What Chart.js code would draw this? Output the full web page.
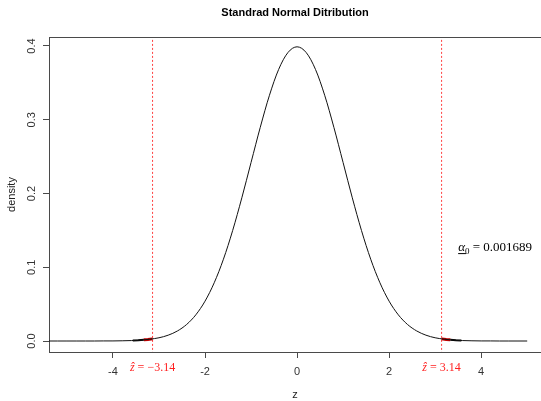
<!DOCTYPE html>
<html>
<head>
<meta charset="utf-8">
<script src="https://cdn.jsdelivr.net/npm/chart.js@4"></script>
<style>
html,body{margin:0;padding:0;background:#fff;}
#c{display:block;}
</style>
</head>
<body>
<canvas id="c" width="541" height="401"></canvas>
<script>
// ---- data ----
const zValues = [-5.4,-5.2,-5.0,-4.8,-4.6,-4.4,-4.2,-4.0,-3.8,-3.6,-3.4,-3.2,-3.0,-2.8,-2.6,-2.4,-2.2,-2.0,-1.8,-1.6,-1.4,-1.2,-1.0,-0.8,-0.6,-0.4,-0.2,0.0,0.2,0.4,0.6,0.8,1.0,1.2,1.4,1.6,1.8,2.0,2.2,2.4,2.6,2.8,3.0,3.2,3.4,3.6,3.8,4.0,4.2,4.4,4.6,4.8,5.0];
const densityValues = [0.0000,0.0000,0.0000,0.0000,0.0000,0.0000,0.0001,0.0001,0.0003,0.0006,0.0012,0.0024,0.0044,0.0079,0.0136,0.0224,0.0355,0.0540,0.0790,0.1109,0.1497,0.1942,0.2420,0.2897,0.3332,0.3683,0.3910,0.3989,0.3910,0.3683,0.3332,0.2897,0.2420,0.1942,0.1497,0.1109,0.0790,0.0540,0.0355,0.0224,0.0136,0.0079,0.0044,0.0024,0.0012,0.0006,0.0003,0.0001,0.0001,0.0000,0.0000,0.0000,0.0000];
const criticalZ = 3.14;
const alphaText = "0.001689";
const redTailZ = [3.14, 3.24, 3.33];
const redTailDensity = [0.0029, 0.0021, 0.0016];
const blackTailZ = [3.33, 3.45, 3.57];
const blackTailDensity = [0.0016, 0.0010, 0.0007];
const xTicks = [-4, -2, 0, 2, 4];
const yTicks = [0, 0.1, 0.2, 0.3, 0.4];
const chartTitle = "Standrad Normal Ditribution";
const xTitle = "z";
const yTitle = "density";

function pts(xs, ys){ return xs.map((x,i)=>({x:x, y:ys[i]})); }

const curveData = pts(zValues, densityValues);
const redRight = pts(redTailZ, redTailDensity);
const redLeft = pts(redTailZ.map(v=>-v), redTailDensity);
const blackRight = pts(blackTailZ, blackTailDensity);
const blackLeft = pts(blackTailZ.map(v=>-v), blackTailDensity);
const critLeft = [{x:-criticalZ, y:-0.05},{x:-criticalZ, y:0.5}];
const critRight = [{x:criticalZ, y:-0.05},{x:criticalZ, y:0.5}];

const AXIS_COLOR = '#4a4a4a';
const TICK_FONT = {family:'"Liberation Sans", Arial, sans-serif', size:11};
const CRIT_COLOR = '#ff4040';

const textPlugin = {
  id:'textPlugin',
  afterDraw(chart){
    const ctx = chart.ctx;
    const ca = chart.chartArea;
    const xs = chart.scales.x, ys = chart.scales.y;
    ctx.save();
    // top border of plot box
    ctx.strokeStyle = AXIS_COLOR;
    ctx.lineWidth = 1;
    ctx.beginPath();
    ctx.moveTo(ca.left, Math.round(ca.top)+0.5);
    ctx.lineTo(ca.right, Math.round(ca.top)+0.5);
    ctx.stroke();

    // title
    ctx.fillStyle = '#000';
    ctx.font = 'bold 11px "Liberation Sans", Arial, sans-serif';
    ctx.textAlign = 'center';
    ctx.textBaseline = 'middle';
    ctx.fillText(chartTitle, (ca.left+ca.right)/2, 13);

    // axis titles
    ctx.fillStyle = '#222';
    ctx.font = '11px "Liberation Sans", Arial, sans-serif';
    ctx.fillText(xTitle, (ca.left+ca.right)/2, 395);
    ctx.save();
    ctx.translate(12, (ca.top+ca.bottom)/2);
    ctx.rotate(-Math.PI/2);
    ctx.fillText(yTitle, 0, 0);
    ctx.restore();

    // z-hat labels
    const serif = '"Liberation Serif", "DejaVu Serif", serif';
    function zhatLabel(val, str){
      const cx = xs.getPixelForValue(val);
      const y = ca.bottom + 16;
      ctx.fillStyle = '#ff2020';
      ctx.textBaseline = 'middle';
      ctx.textAlign = 'left';
      ctx.font = 'italic 12px ' + serif;
      const w1 = ctx.measureText('\u1E91').width;
      ctx.font = '12px ' + serif;
      const rest = ' = ' + str;
      const w2 = ctx.measureText(rest).width;
      const x0 = cx - (w1+w2)/2;
      ctx.font = 'italic 12px ' + serif;
      ctx.fillText('\u1E91', x0, y);
      ctx.font = '12px ' + serif;
      ctx.fillText(rest, x0 + w1, y);
    }
    zhatLabel(-criticalZ, '\u2212' + criticalZ.toFixed(2));
    zhatLabel(criticalZ, criticalZ.toFixed(2));

    // alpha label
    const ax = xs.getPixelForValue(3.5);
    const ay = ys.getPixelForValue(0.128);
    ctx.fillStyle = '#000';
    ctx.textAlign = 'left';
    ctx.textBaseline = 'alphabetic';
    ctx.font = 'italic 13px ' + serif;
    const base = ay + 4.5;
    ctx.fillText('\u03B1', ax, base);
    const wa = ctx.measureText('\u03B1').width;
    ctx.strokeStyle = '#000';
    ctx.lineWidth = 1;
    ctx.beginPath();
    ctx.moveTo(ax, base + 2.5);
    ctx.lineTo(ax + wa + 1, base + 2.5);
    ctx.stroke();
    ctx.font = '9px ' + serif;
    ctx.fillText('0', ax + wa, base + 2.5);
    const w0 = ctx.measureText('0').width;
    ctx.font = '13px ' + serif;
    ctx.fillText(' = ' + alphaText, ax + wa + w0, base);
    ctx.restore();
  }
};

new Chart(document.getElementById('c'), {
  type: 'scatter',
  data: {
    datasets: [
      {data: curveData, showLine:true, borderColor:'#111', borderWidth:1, pointRadius:0, cubicInterpolationMode:'monotone'},
      {data: blackLeft, showLine:true, borderColor:'#000', borderWidth:2, pointRadius:0},
      {data: blackRight, showLine:true, borderColor:'#000', borderWidth:2, pointRadius:0},
      {data: redLeft, showLine:true, borderColor:'#c00000', borderWidth:3, pointRadius:0},
      {data: redRight, showLine:true, borderColor:'#c00000', borderWidth:3, pointRadius:0},
      {data: critLeft, showLine:true, borderColor:CRIT_COLOR, borderWidth:1, borderDash:[2,2], pointRadius:0},
      {data: critRight, showLine:true, borderColor:CRIT_COLOR, borderWidth:1, borderDash:[2,2], pointRadius:0}
    ]
  },
  options: {
    responsive:false,
    animation:false,
    devicePixelRatio:1,
    layout:{padding:{top:37, left:0, right:0, bottom:0}},
    plugins:{legend:{display:false}, tooltip:{enabled:false}, title:{display:false}},
    scales:{
      x:{
        type:'linear', min:-5.39, max:5.3,
        afterBuildTicks(s){ s.ticks = xTicks.map(v=>({value:v})); },
        afterFit(s){ s.height = 49; },
        grid:{drawOnChartArea:false, drawTicks:true, tickLength:6, color:AXIS_COLOR},
        border:{display:true, color:AXIS_COLOR},
        ticks:{font:TICK_FONT, color:'#333', padding:7, maxRotation:0, minRotation:0,
               callback:(v)=>String(v)}
      },
      y:{
        type:'linear', min:-0.0149, max:0.4122,
        afterBuildTicks(s){ s.ticks = yTicks.map(v=>({value:v})); },
        afterFit(s){ s.width = 49; },
        grid:{drawOnChartArea:false, drawTicks:true, tickLength:6, color:AXIS_COLOR},
        border:{display:true, color:AXIS_COLOR},
        ticks:{font:TICK_FONT, color:'#333', padding:3, minRotation:90, maxRotation:90, crossAlign:'center',
               callback:(v)=>v.toFixed(1)}
      }
    }
  },
  plugins:[textPlugin]
});
</script>
</body>
</html>
